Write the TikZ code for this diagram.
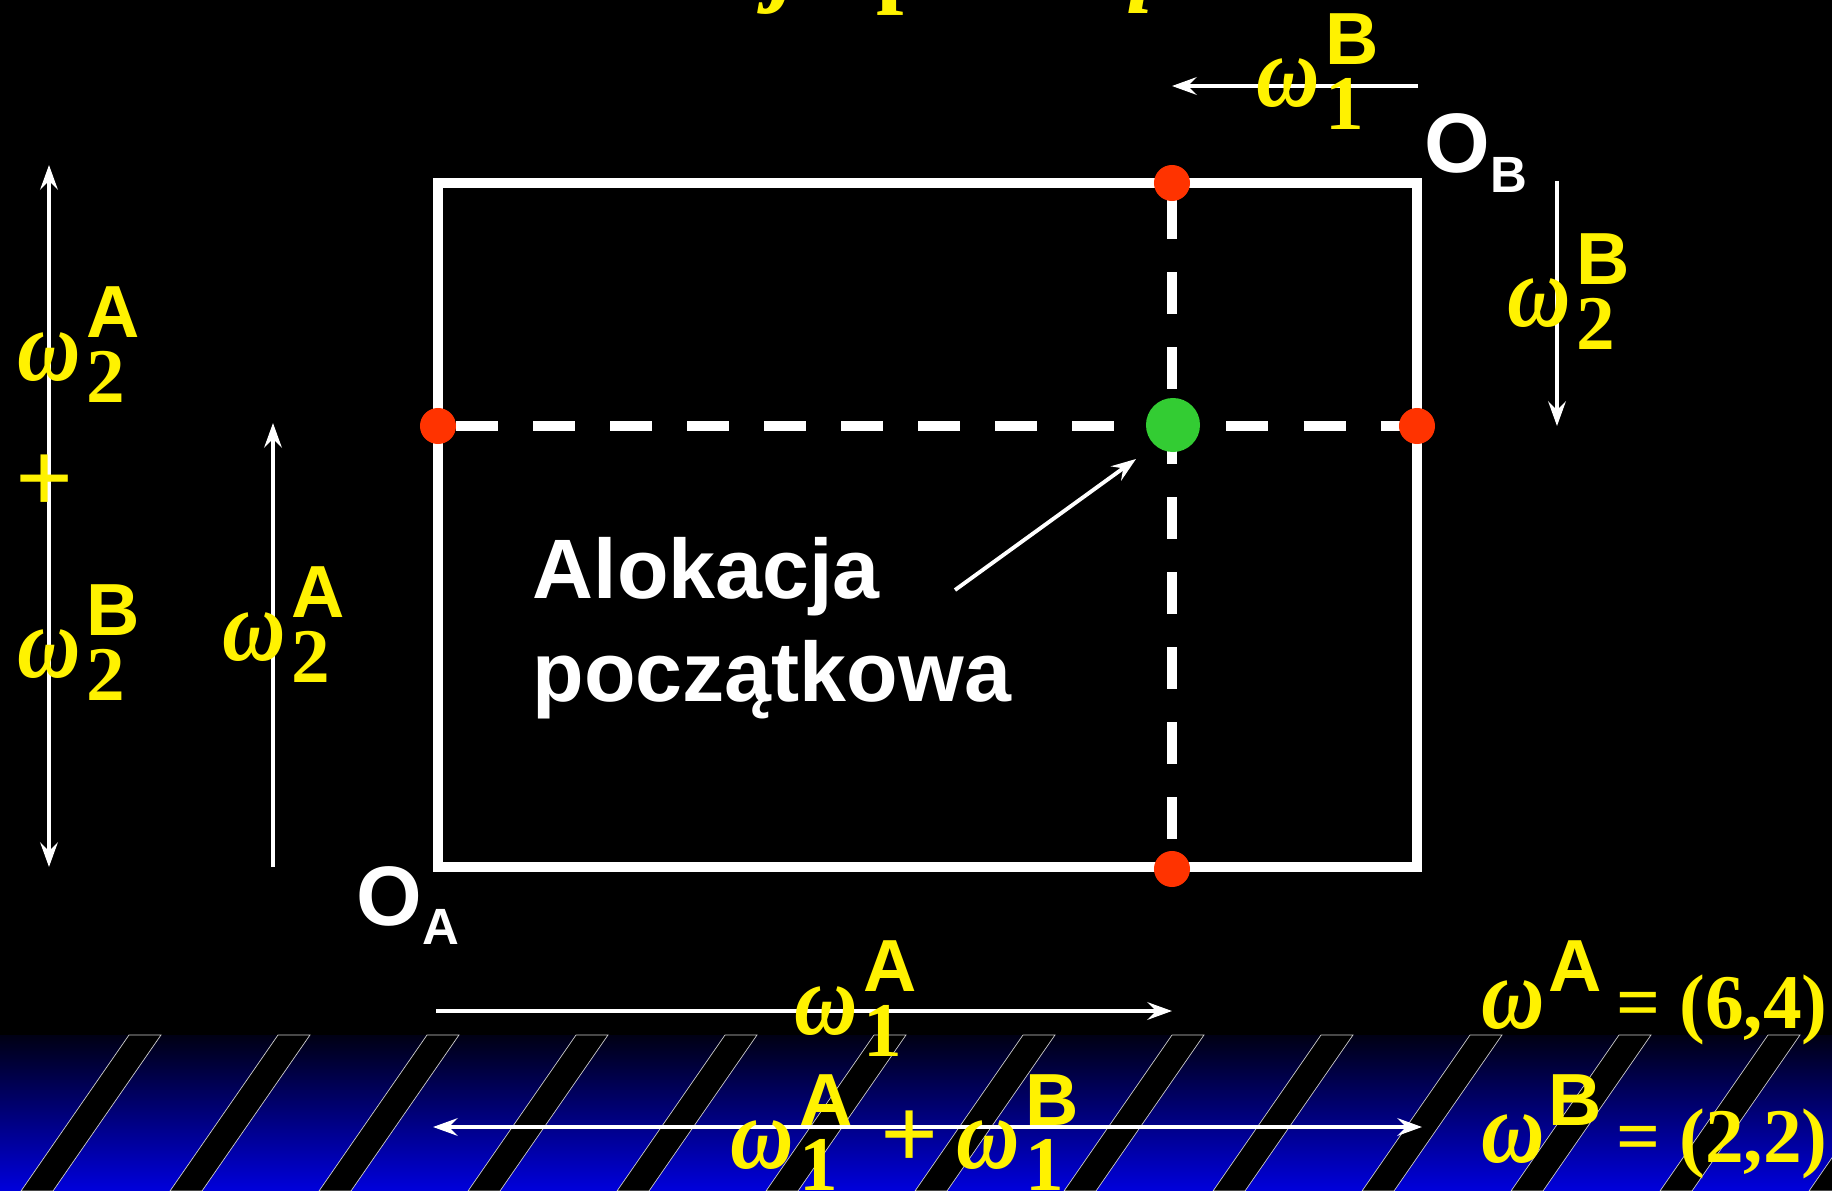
\documentclass[tikz,border=0pt]{standalone}
\usepackage{graphicx}
\usepackage{fontspec}
\setmainfont{Liberation Sans}
\newfontfamily\tnr{Liberation Serif}
\usetikzlibrary{arrows.meta}

\definecolor{dotred}{RGB}{255,51,0}
\definecolor{dotgreen}{RGB}{51,204,51}
\definecolor{bandtop}{RGB}{0,0,20}
\definecolor{bandblue}{RGB}{0,0,220}

% omega with sub- and superscript
\newcommand{\om}{\scalebox{0.86}[1]{\tnr\bfseries\itshape\fontsize{29}{29}\selectfont ω}}
\newcommand{\dg}[1]{{\tnr\bfseries\fontsize{22}{22}\selectfont #1}}
\newcommand{\up}[1]{{\bfseries\fontsize{21}{21}\selectfont #1}}
\newcommand{\pl}{{\tnr\bfseries\fontsize{29}{29}\selectfont +}}
\newcommand{\wl}[2]{\om\kern1.5pt\rlap{\raisebox{-6.3pt}{\dg{#1}}}\raisebox{12pt}{\up{#2}}}

\begin{document}
\begin{tikzpicture}[x=0.01cm, y=-0.01cm, >={Stealth[length=7pt,width=5pt,inset=2.5pt]},
    box/.style={white, line width=3pt},
    grid/.style={white, line width=2.85pt},
    arr/.style={white, line width=1.3pt},
    reddot/.style={circle, fill=dotred, inner sep=0pt, minimum size=0.36cm},
    greendot/.style={circle, fill=dotgreen, inner sep=0pt, minimum size=0.54cm},
    ylab/.style={yellow, inner sep=0pt, anchor=base west},
    wlab/.style={white, inner sep=0pt, anchor=base west, font=\bfseries\fontsize{24}{24}\selectfont},
    stripe/.style={fill=black, draw=gray!40, line width=0.2pt}]
    \useasboundingbox (0,0) rectangle (1832,1191);

    % Background
    \fill[black] (0,0) rectangle (1832,1191);
    \clip (0,0) rectangle (1832,1191);

    % Blue band with stripes
    \shade[top color=bandtop, bottom color=bandblue] (0,1035) rectangle (1832,1191);
    \foreach \x in {129,278,...,1917}
        \draw[stripe] (\x,1035) -- ++(32,0) -- ++(-108,156) -- ++(-32,0) -- cycle;

    % Cut-off title
    \node[ylab] (ttlj) at (770,-6) {\tnr\bfseries\itshape\fontsize{28}{28}\selectfont j};
    \node[ylab] (ttlp) at (876,-5) {\tnr\bfseries\fontsize{28}{28}\selectfont p};
    \node[ylab] (ttli) at (1126,14) {\tnr\bfseries\itshape\fontsize{28}{28}\selectfont ı};

    % Edgeworth box
    \coordinate (OA) at (438,867);
    \coordinate (OB) at (1417,183);
    \coordinate (xtop) at (1172,183);
    \coordinate (xbot) at (1172,869);
    \coordinate (yleft) at (438,426);
    \coordinate (yright) at (1417,426);
    \draw[box] (OA) rectangle (OB);
    \draw[grid, dash pattern=on 0.42cm off 0.33cm, dash phase=0.61cm] (xtop) -- (xbot);
    \draw[grid, dash pattern=on 0.42cm off 0.35cm, dash phase=0.59cm] (yleft) -- (yright);

    % Endowment points
    \node[reddot] (dtop) at (xtop) {};
    \node[reddot] (dbot) at (xbot) {};
    \node[reddot] (dleft) at (yleft) {};
    \node[reddot] (dright) at (yright) {};
    \node[greendot] (start) at (1173,425) {};

    % Origins
    \node[wlab] (oa) at (356,925) {O\raisebox{-5.5pt}{\fontsize{14.5}{14.5}\selectfont A}};
    \node[wlab] (ob) at (1424,173) {O\raisebox{-5.5pt}{\fontsize{14.5}{14.5}\selectfont B}};

    % Axis arrows
    \coordinate (sumtop) at (49,165);
    \coordinate (sumbot) at (49,867);
    \coordinate (atail) at (273,867);
    \coordinate (ahead) at (273,423);
    \coordinate (btail) at (1557,181);
    \coordinate (bhead) at (1557,426);
    \coordinate (b1tail) at (1418,86);
    \coordinate (b1head) at (1172,86);
    \coordinate (a1tail) at (436,1011);
    \coordinate (a1head) at (1172,1011);
    \coordinate (s1left) at (433,1127);
    \coordinate (s1right) at (1422,1127);
    \draw[arr, <->] (sumtop) -- (sumbot);
    \draw[arr, ->] (atail) -- (ahead);
    \draw[arr, ->] (btail) -- (bhead);
    \draw[arr, ->] (b1tail) -- (b1head);
    \draw[arr, ->] (a1tail) -- (a1head);
    \draw[arr, <->] (s1left) -- (s1right);

    % Labels
    \node[ylab] (w2suma) at (17,380) {\wl{2}{A}};
    \node[ylab] (plus) at (15,512) {\pl};
    \node[ylab] (w2sumb) at (17,678) {\wl{2}{B}};
    \node[ylab] (w2a) at (222,660) {\wl{2}{A}};
    \node[ylab] (w2b) at (1507,327) {\wl{2}{B}};
    \node[ylab] (w1b) at (1256,107) {\wl{1}{B}};
    \node[ylab] (w1a) at (794,1034) {\wl{1}{A}};
    \node[ylab] (w1sum) at (730,1168) {\wl{1}{A}\kern8pt\pl\kern5pt\wl{1}{B}};
    \node[ylab] (enda) at (1481,1028) {\om\kern1pt\raisebox{10.5pt}{\up{A}}\dg{\kern4pt= (6,4)}};
    \node[ylab] (endb) at (1481,1162) {\om\kern1pt\raisebox{10.5pt}{\up{B}}\dg{\kern4pt= (2,2)}};

    % Initial allocation
    \node[wlab] (alok) at (532,598) {Alokacja};
    \node[wlab] (pocz) at (532,701) {początkowa};
    \coordinate (notetail) at (955,590);
    \coordinate (notehead) at (1136,459);
    \draw[arr, line width=1.1pt, ->] (notetail) -- (notehead);
\end{tikzpicture}
\end{document}
